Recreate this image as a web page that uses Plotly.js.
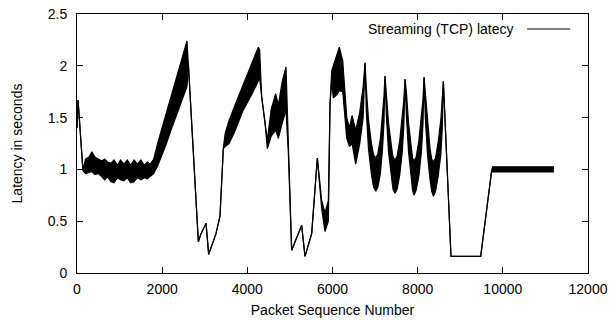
<!DOCTYPE html>
<html>
<head>
<meta charset="utf-8">
<script src="https://cdn.plot.ly/plotly-3.0.1.min.js"></script>
<style>html,body{margin:0;padding:0;background:#fff;}#chart{width:610px;height:320px;}</style>
</head>
<body>
<div id="chart"></div>
<script>
// Packet sequence numbers where the latency envelope was read
var seqNum = [0, 25, 140, 200, 280, 350, 420, 500, 580, 650, 720, 800, 870, 950, 1020, 1100, 1180, 1260, 1340, 1420, 1500, 1580, 1650, 1720,
  1800, 1900, 2000, 2100, 2200, 2300, 2400, 2500, 2583, 2615, 2693, 2771, 2850, 2904, 3030, 3092, 3264, 3358, 3436,
  3480, 3570, 3700, 3900, 4100, 4258, 4290, 4337, 4415, 4470, 4560, 4666, 4728, 4820, 4908, 4963, 5041, 5276, 5354,
  5511, 5644, 5746, 5824, 5903, 5942, 5981, 6020, 6100, 6160, 6240, 6290, 6335, 6398, 6460, 6545, 6640, 6720, 6764,
  6795, 6845, 6915, 6965, 7015, 7065, 7125, 7175, 7208, 7233,
  7265, 7315, 7385, 7420, 7468, 7518, 7580, 7640, 7675, 7703,
  7735, 7785, 7850, 7880, 7915, 7965, 8030, 8090, 8125, 8150,
  8180, 8230, 8290, 8330, 8369, 8420, 8480, 8545, 8578, 8603,
  8783, 9480, 9738, 9760, 11200];
// Lower edge of the latency band (seconds)
var latLow = [1.40, 1.67, 0.99, 0.96, 0.97, 0.98, 0.95, 0.96, 0.93, 0.90, 0.93, 0.88, 0.87, 0.92, 0.90, 0.89, 0.92, 0.87, 0.88, 0.92, 0.90, 0.92, 0.91, 0.93,
  0.96, 1.04, 1.14, 1.25, 1.37, 1.48, 1.59, 1.70, 1.80, 2.02, 1.47, 0.93, 0.30, 0.37, 0.48, 0.18, 0.38, 0.55, 1.20,
  1.22, 1.25, 1.36, 1.57, 1.72, 1.85, 1.88, 1.70, 1.45, 1.20, 1.32, 1.38, 1.30, 1.45, 1.57, 1.16, 0.22, 0.46, 0.16,
  0.38, 1.11, 0.62, 0.40, 0.50, 1.63, 1.85, 1.69, 1.72, 1.76, 1.75, 1.55, 1.30, 1.22, 1.25, 1.05, 1.25, 1.50, 2.03,
  1.55, 1.20, 0.95, 0.83, 0.79, 0.83, 0.96, 1.20, 1.45, 1.90,
  1.52, 1.17, 0.93, 0.81, 0.77, 0.81, 0.95, 1.18, 1.42, 1.87,
  1.52, 1.17, 0.92, 0.80, 0.75, 0.80, 0.94, 1.18, 1.44, 1.89,
  1.50, 1.15, 0.90, 0.79, 0.74, 0.79, 0.93, 1.15, 1.40, 1.85,
  0.16, 0.16, 0.99, 0.975, 0.975];
// Upper edge of the latency band (seconds)
var latHigh = [1.40, 1.67, 0.99, 1.10, 1.12, 1.17, 1.12, 1.10, 1.08, 1.10, 1.07, 1.06, 1.09, 1.04, 1.09, 1.05, 1.09, 1.04, 1.09, 1.05, 1.09, 1.04, 1.07, 1.05,
  1.10, 1.26, 1.40, 1.54, 1.68, 1.83, 1.98, 2.10, 2.24, 2.02, 1.47, 0.93, 0.30, 0.37, 0.48, 0.18, 0.38, 0.55, 1.20,
  1.35, 1.47, 1.61, 1.82, 2.02, 2.18, 2.15, 1.70, 1.45, 1.28, 1.58, 1.73, 1.62, 1.85, 1.99, 1.16, 0.22, 0.46, 0.16,
  0.38, 1.11, 0.70, 0.58, 0.70, 1.63, 1.95, 2.00, 2.10, 2.18, 2.05, 1.70, 1.50, 1.40, 1.52, 1.38, 1.55, 1.80, 2.03,
  1.78, 1.48, 1.25, 1.14, 1.11, 1.15, 1.30, 1.52, 1.70, 1.90,
  1.75, 1.45, 1.22, 1.12, 1.09, 1.13, 1.28, 1.50, 1.67, 1.87,
  1.75, 1.45, 1.22, 1.11, 1.08, 1.12, 1.28, 1.50, 1.68, 1.89,
  1.73, 1.43, 1.20, 1.10, 1.07, 1.11, 1.26, 1.48, 1.65, 1.85,
  0.16, 0.16, 0.99, 1.025, 1.025];
var seriesName = 'Streaming (TCP) latecy';
var xTickVals = [0, 2000, 4000, 6000, 8000, 10000, 12000];
var xTickText = ['0', '2000', '4000', '6000', '8000', '10000', '12000'];
var yTickVals = [0, 0.5, 1, 1.5, 2, 2.5];
var yTickText = ['0', '0.5', '1', '1.5', '2', '2.5'];

var font = {family: '"Liberation Sans", Arial, sans-serif', size: 14, color: '#000'};

var traces = [
  {x: seqNum, y: latLow, type: 'scatter', mode: 'lines', line: {color: '#000', width: 1.2}, showlegend: false, hoverinfo: 'skip'},
  {x: seqNum, y: latHigh, type: 'scatter', mode: 'lines', fill: 'tonexty', fillcolor: '#000', line: {color: '#000', width: 1.2}, name: seriesName, showlegend: false}
];

var axisCommon = {
  showline: true, linecolor: '#000', linewidth: 1, mirror: 'ticks',
  ticks: 'inside', ticklen: 6, tickcolor: '#000', tickwidth: 1,
  showgrid: false, zeroline: false, tickfont: font
};

var layout = {
  width: 610, height: 320,
  margin: {l: 77, r: 22, t: 14, b: 47},
  paper_bgcolor: '#fff', plot_bgcolor: '#fff',
  font: font,
  showlegend: false,
  xaxis: Object.assign({}, axisCommon, {
    range: [0, 12000], tickvals: xTickVals, ticktext: xTickText, ticklabelstandoff: 3,
    title: {text: 'Packet Sequence Number', font: font, standoff: 9}
  }),
  yaxis: Object.assign({}, axisCommon, {
    range: [0, 2.5], tickvals: yTickVals, ticktext: yTickText, ticklabelstandoff: 6,
    title: {text: 'Latency in seconds', font: font, standoff: 21}
  }),
  annotations: [{
    xref: 'paper', yref: 'paper', x: 0.857, y: 0.942, xanchor: 'right', yanchor: 'middle',
    text: seriesName, showarrow: false, font: font
  }],
  shapes: [{
    type: 'line', xref: 'paper', yref: 'paper', x0: 0.881, x1: 0.965, y0: 0.942, y1: 0.942,
    line: {color: '#000', width: 1.2}
  }]
};

Plotly.newPlot('chart', traces, layout, {displayModeBar: false, staticPlot: true});
</script>
</body>
</html>
